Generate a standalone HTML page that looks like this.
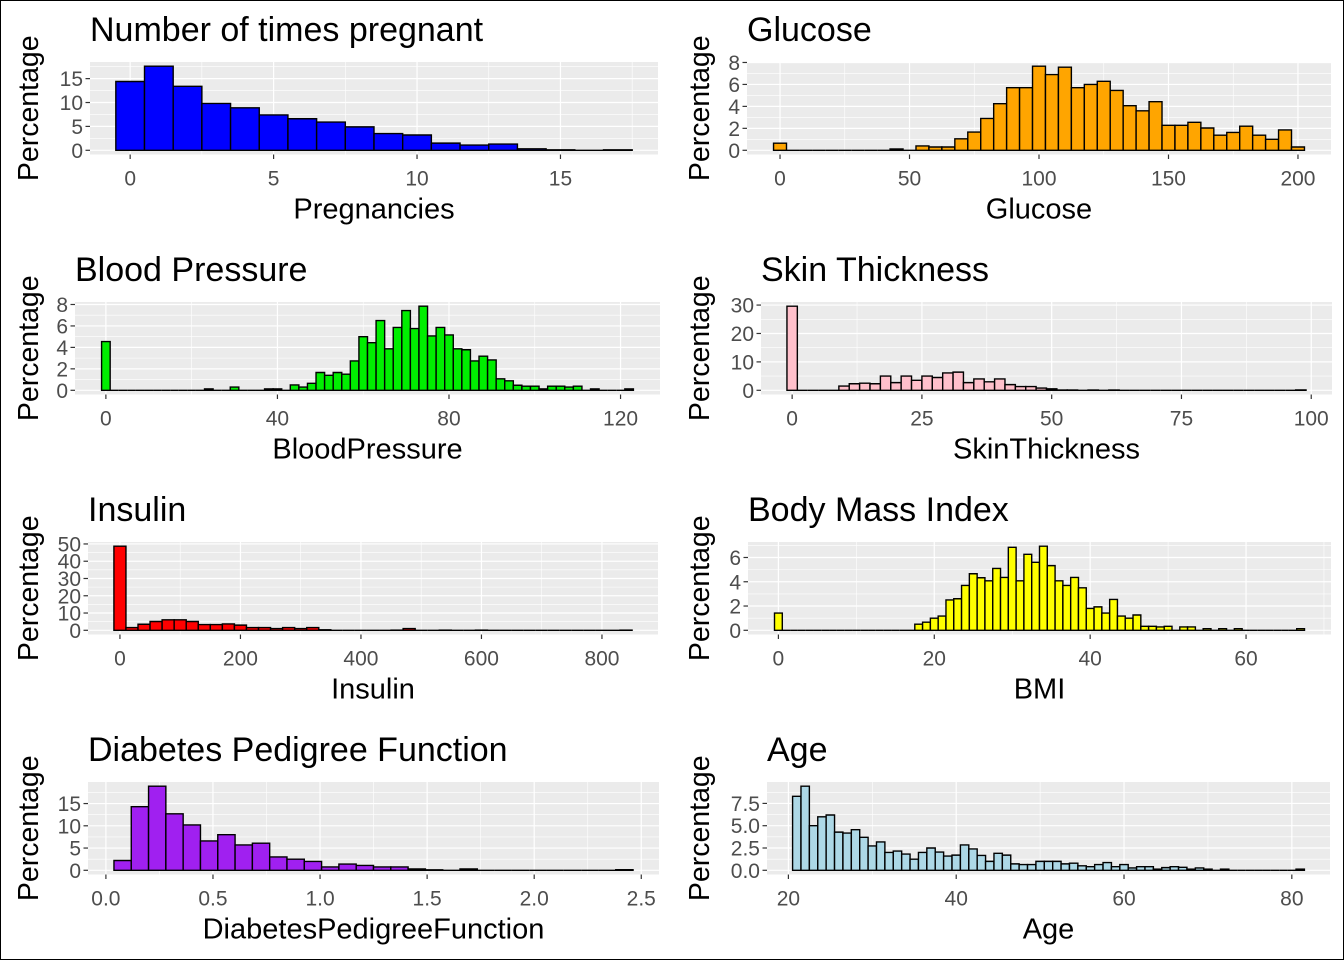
<!DOCTYPE html>
<html><head><meta charset="utf-8"><style>
html,body{margin:0;padding:0;background:#fff;}
svg{display:block;font-family:"Liberation Sans",Arial,sans-serif;}
</style></head>
<body>
<svg id="chart" width="1344" height="960" viewBox="0 0 1344 960" xmlns="http://www.w3.org/2000/svg">
<rect x="0.5" y="0.5" width="1343" height="959" fill="#fff" stroke="#000" stroke-width="1"/>
</svg>
<script>
// ---- data ----
const pregValues = [14.4,17.6,13.4,9.8,8.9,7.4,6.6,5.9,4.9,3.5,3.2,1.5,1.1,1.3,0.3,0.1,0,0.1];
const pregStart = 0, pregWidth = 1;
const pregXTicks = [0,5,10,15];
const pregYTicks = [0,5,10,15];

const gluValues = [0.65,0,0,0,0,0,0,0,0,0.12,0,0.4,0.3,0.3,1.05,1.66,2.9,4.25,5.7,5.7,7.66,6.9,7.57,5.7,6.0,6.28,5.45,4.06,3.6,4.43,2.28,2.28,2.55,2.03,1.38,1.63,2.2,1.38,1.0,1.85,0.3];
const gluStart = 0, gluWidth = 5;
const gluXTicks = [0,50,100,150,200];
const gluYTicks = [0,2,4,6,8];

const bpValues = [4.54,0,0,0,0,0,0,0,0,0,0,0,0.13,0,0,0.3,0,0,0,0.13,0.13,0,0.5,0.3,0.65,1.66,1.4,1.66,1.5,2.74,5.0,4.44,6.5,3.87,5.86,7.43,5.76,7.84,5.07,5.86,5.16,3.87,3.78,2.74,3.18,2.83,1.07,0.88,0.47,0.38,0.38,0.13,0.38,0.38,0.3,0.38,0,0.13,0,0,0,0.13];
const bpStart = 0, bpWidth = 2;
const bpXTicks = [0,40,80,120];
const bpYTicks = [0,2,4,6,8];

const skinValues = [29.6,0,0,0,0,1.5,2.3,2.5,2.3,5.0,2.7,5.0,3.5,5.0,4.5,6.1,6.4,2.7,4.0,3.0,4.0,2.0,1.3,1.3,0.8,0.5,0.1,0.1,0,0.1,0,0.1,0,0,0,0,0,0,0,0,0,0,0,0,0,0,0,0,0,0.13];
const skinStart = 0, skinWidth = 2;
const skinXTicks = [0,25,50,75,100];
const skinYTicks = [0,10,20,30];

const insValues = [48.7,1.6,3.5,5.1,6.1,6.1,5.1,3.3,3.3,3.7,3.0,1.6,1.6,1.0,1.6,1.0,1.6,0.3,0,0,0,0,0,0.1,1.0,0,0,0.1,0,0,0.1,0,0,0,0,0,0,0,0,0,0,0,0.1];
const insStart = 0, insWidth = 20;
const insXTicks = [0,200,400,600,800];
const insYTicks = [0,10,20,30,40,50];

const bmiValues = [1.42,0,0,0,0,0,0,0,0,0,0,0,0,0,0,0,0,0,0.5,0.67,1.0,1.17,2.5,2.6,3.7,4.66,4.33,4.08,5.1,4.36,6.84,4.08,6.26,5.6,6.93,5.33,4.08,3.7,4.36,3.5,1.8,1.93,1.42,2.54,1.17,1.0,1.26,0.33,0.33,0.28,0.33,0,0.28,0.28,0,0.13,0,0.13,0,0.13,0,0,0,0,0,0,0,0.13];
const bmiStart = 0, bmiWidth = 1;
const bmiXTicks = [0,20,40,60];
const bmiYTicks = [0,2,4,6];

const dpfValues = [2.2,14.3,18.9,12.7,10.2,6.6,8.0,5.7,6.1,3.0,2.5,2.0,0.76,1.4,1.1,0.76,0.76,0.3,0.1,0,0.3,0,0,0,0,0,0,0,0,0.13];
const dpfStart = 0.078, dpfWidth = 0.0808;
const dpfXTicks = [0,0.5,1,1.5,2,2.5];
const dpfXLabels = ["0.0","0.5","1.0","1.5","2.0","2.5"];
const dpfYTicks = [0,5,10,15];

const ageValues = [8.3,9.43,5.0,6.0,6.2,4.28,4.17,4.55,3.7,2.73,3.18,2.0,2.16,1.82,1.25,2.0,2.5,2.05,1.6,1.7,2.84,2.39,1.67,1.0,1.9,1.7,0.72,0.64,0.64,1.0,1.0,1.0,0.72,0.8,0.5,0.4,0.64,0.87,0.4,0.64,0.26,0.4,0.4,0.13,0.3,0.4,0.34,0.13,0.26,0.13,0,0.13,0,0,0,0,0,0,0,0,0.13];
const ageStart = 21, ageWidth = 1;
const ageXTicks = [20,40,60,80];
const ageYTicks = [0,2.5,5,7.5];
const ageYLabels = ["0.0","2.5","5.0","7.5"];

// ---- drawing ----
const NS = "http://www.w3.org/2000/svg";
const svg = document.getElementById("chart");
function mk(tag, attrs, parent) {
  const e = document.createElementNS(NS, tag);
  for (const k in attrs) e.setAttribute(k, attrs[k]);
  (parent || svg).appendChild(e);
  return e;
}

function panel(cfg) {
  const g = mk("g", {});
  
  
  const L = cfg.left, R = cfg.right, T = cfg.top, H = 92.5, B = T + H;
  const n = cfg.values.length;
  const lo = cfg.start - cfg.width / 2, hi = cfg.start + (n - 1) * cfg.width + cfg.width / 2;
  const ex = (hi - lo) * 0.05;
  const dx0 = lo - ex, dx1 = hi + ex;
  const xs = v => L + (v - dx0) / (dx1 - dx0) * (R - L);
  const ymax = Math.max(...cfg.values);
  const dy0 = -0.05 * ymax, dy1 = ymax * 1.05;
  const ys = v => B - (v - dy0) / (dy1 - dy0) * H;

  const bg = mk("rect", {x: L, y: T, width: R - L, height: H, fill: "#EBEBEB"}, g);
  
  

  function minors(ticks, d0, d1) {
    const out = [];
    const st = ticks[1] - ticks[0];
    const all = [ticks[0] - st, ...ticks, ticks[ticks.length - 1] + st];
    for (let i = 0; i < all.length - 1; i++) {
      const m = (all[i] + all[i + 1]) / 2;
      if (m > d0 && m < d1) out.push(m);
    }
    return out;
  }
  minors(cfg.xTicks, dx0, dx1).forEach(m => {
    const l = mk("line", {x1: xs(m), x2: xs(m), y1: T, y2: B, stroke: "#fff", "stroke-width": 0.6}, g);
    
    
  });
  minors(cfg.yTicks, dy0, dy1).forEach(m => {
    const l = mk("line", {x1: L, x2: R, y1: ys(m), y2: ys(m), stroke: "#fff", "stroke-width": 0.6}, g);
    
    
  });
  cfg.xTicks.forEach(t => {
    const l = mk("line", {x1: xs(t), x2: xs(t), y1: T, y2: B, stroke: "#fff", "stroke-width": 1.2}, g);
    
    
  });
  cfg.yTicks.forEach(t => {
    const l = mk("line", {x1: L, x2: R, y1: ys(t), y2: ys(t), stroke: "#fff", "stroke-width": 1.2}, g);
    
    
  });

  // bars (paths so zero-height bins still stroke a baseline)
  cfg.values.forEach((v, i) => {
    const c = cfg.start + i * cfg.width;
    const x0 = xs(c - cfg.width / 2), x1 = xs(c + cfg.width / 2);
    const y0 = ys(v), y1 = ys(0);
    const d = "M" + x0 + "," + y1 + " V" + y0 + " H" + x1 + " V" + y1 + " Z";
    const r = mk("path", {d: d, fill: cfg.color, stroke: "#000", "stroke-width": 1.4, "stroke-linejoin": "miter"}, g);
    
    
  });

  cfg.yTicks.forEach((t, i) => {
    const y = ys(t);
    const tk = mk("line", {x1: L - 4.5, x2: L, y1: y, y2: y, stroke: "#333", "stroke-width": 1.2}, g);
    
    
    const tx = mk("text", {x: L - 7, y: y + 7.5, "text-anchor": "end", "font-size": 21, fill: "#4D4D4D"}, g);
    tx.textContent = cfg.yLabels ? cfg.yLabels[i] : String(t);
    
    
  });
  cfg.xTicks.forEach((t, i) => {
    const x = xs(t);
    const tk = mk("line", {x1: x, x2: x, y1: B, y2: B + 4.5, stroke: "#333", "stroke-width": 1.2}, g);
    
    
    const tx = mk("text", {x: x, y: B + 31, "text-anchor": "middle", "font-size": 21, fill: "#4D4D4D"}, g);
    tx.textContent = cfg.xLabels ? cfg.xLabels[i] : String(t);
    
    
  });

  const title = mk("text", {x: L, y: T - 21, "font-size": 34, fill: "#000"}, g);
  title.textContent = cfg.title;
  
  

  const xt = mk("text", {x: (L + R) / 2, y: B + 64, "text-anchor": "middle", "font-size": 29, fill: "#000"}, g);
  xt.textContent = cfg.xTitle;
  
  

  const yt = mk("text", {transform: "translate(" + (cfg.yTitleX + 10) + "," + (T + H / 2) + ") rotate(-90)", "text-anchor": "middle", "font-size": 28.5, fill: "#000"}, g);
  yt.textContent = "Percentage";
  
  
}

panel({name: "pregnancies", title: "Number of times pregnant", xTitle: "Pregnancies", color: "#0000FF",
  values: pregValues, start: pregStart, width: pregWidth, xTicks: pregXTicks, yTicks: pregYTicks,
  left: 90, right: 658, top: 62, yTitleX: 28});
panel({name: "glucose", title: "Glucose", xTitle: "Glucose", color: "#FFA500",
  values: gluValues, start: gluStart, width: gluWidth, xTicks: gluXTicks, yTicks: gluYTicks,
  left: 747, right: 1331, top: 62, yTitleX: 699});
panel({name: "blood-pressure", title: "Blood Pressure", xTitle: "BloodPressure", color: "#00EE00",
  values: bpValues, start: bpStart, width: bpWidth, xTicks: bpXTicks, yTicks: bpYTicks,
  left: 75, right: 660, top: 302, yTitleX: 28});
panel({name: "skin-thickness", title: "Skin Thickness", xTitle: "SkinThickness", color: "#FFC0CB",
  values: skinValues, start: skinStart, width: skinWidth, xTicks: skinXTicks, yTicks: skinYTicks,
  left: 761, right: 1332, top: 302, yTitleX: 699});
panel({name: "insulin", title: "Insulin", xTitle: "Insulin", color: "#FF0000",
  values: insValues, start: insStart, width: insWidth, xTicks: insXTicks, yTicks: insYTicks,
  left: 88, right: 658, top: 542, yTitleX: 28});
panel({name: "bmi", title: "Body Mass Index", xTitle: "BMI", color: "#FFFF00",
  values: bmiValues, start: bmiStart, width: bmiWidth, xTicks: bmiXTicks, yTicks: bmiYTicks,
  left: 748, right: 1331, top: 542, yTitleX: 699});
panel({name: "dpf", title: "Diabetes Pedigree Function", xTitle: "DiabetesPedigreeFunction", color: "#A020F0",
  values: dpfValues, start: dpfStart, width: dpfWidth, xTicks: dpfXTicks, xLabels: dpfXLabels, yTicks: dpfYTicks,
  left: 88, right: 659, top: 782, yTitleX: 28});
panel({name: "age", title: "Age", xTitle: "Age", color: "#ADD8E6",
  values: ageValues, start: ageStart, width: ageWidth, xTicks: ageXTicks, yTicks: ageYTicks, yLabels: ageYLabels,
  left: 767, right: 1330, top: 782, yTitleX: 699});
</script>
</body></html>
